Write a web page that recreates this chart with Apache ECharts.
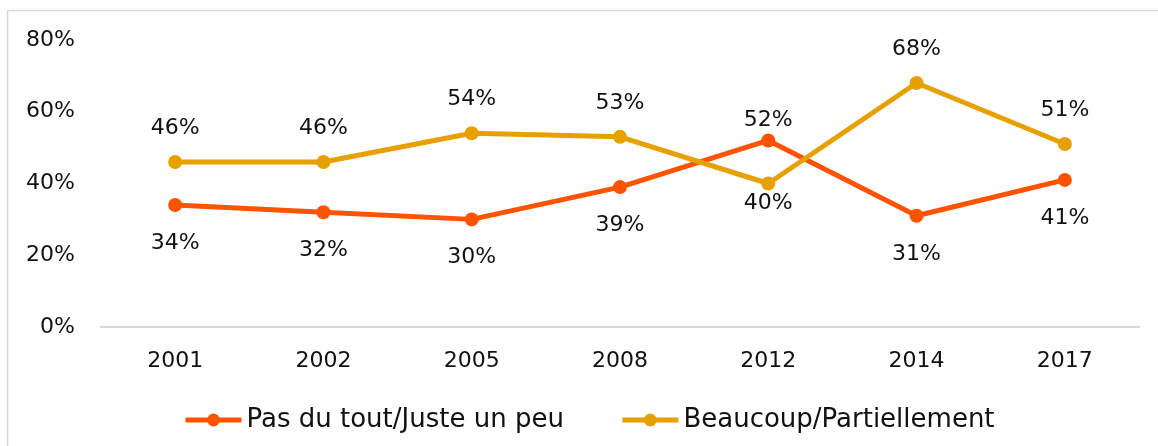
<!DOCTYPE html>
<html>
<head>
<meta charset="utf-8">
<script src="https://cdn.jsdelivr.net/npm/echarts@6/dist/echarts.min.js"></script>
<style>
  html, body { margin: 0; padding: 0; background: #fff; }
  #chart { width: 1158px; height: 446px; }
</style>
</head>
<body>
<div id="chart"></div>
<script>
// données
var years = ['2001', '2002', '2005', '2008', '2012', '2014', '2017'];
var pasDuTout = [34, 32, 30, 39, 52, 31, 41];
var beaucoup = [46, 46, 54, 53, 40, 68, 51];
var yTicks = [0, 20, 40, 60, 80];

var RED = '#FF5300';
var GOLD = '#E6A000';
var FONT = 'DejaVu Sans';

// étiquettes : la série du dessus en haut, l'autre en bas
function buildData(values, other) {
    return values.map(function (v, i) {
        var above = v >= other[i];
        var normal = above ? (values === beaucoup) : (values === pasDuTout);
        var dist = normal ? (above ? 16 : 20) : 2;
        return {
            value: v,
            label: { position: above ? 'top' : 'bottom', distance: dist }
        };
    });
}

var chart = echarts.init(document.getElementById('chart'));
chart.setOption({
    animation: false,
    textStyle: { fontFamily: FONT },
    graphic: [{
        type: 'rect',
        shape: { x: 7.5, y: 10.5, width: 1200, height: 500 },
        style: { fill: 'none', stroke: '#d9d9d9', lineWidth: 1.5 },
        silent: true
    }],
    grid: { left: 101, right: 19, top: 40, bottom: 119 },
    legend: {
        left: 178,
        top: 402,
        itemWidth: 56,
        itemHeight: 16,
        itemGap: 56,
        lineStyle: { width: 5 },
        textStyle: { fontFamily: FONT, fontSize: 26, color: '#111' },
        data: ['Pas du tout/Juste un peu', 'Beaucoup/Partiellement']
    },
    xAxis: {
        type: 'category',
        data: years,
        boundaryGap: true,
        axisTick: { show: false },
        axisLine: { lineStyle: { color: '#d9d9d9', width: 2 } },
        axisLabel: { color: '#111', fontSize: 22, fontFamily: FONT, margin: 23 }
    },
    yAxis: {
        type: 'value',
        min: yTicks[0],
        max: yTicks[yTicks.length - 1],
        interval: yTicks[1] - yTicks[0],
        axisLine: { show: false },
        axisTick: { show: false },
        splitLine: { show: false },
        axisLabel: { color: '#111', fontSize: 22, fontFamily: FONT, margin: 26, formatter: '{value}%' }
    },
    series: [{
        name: 'Pas du tout/Juste un peu',
        type: 'line',
        data: buildData(pasDuTout, beaucoup),
        symbol: 'circle',
        symbolSize: 14,
        lineStyle: { color: RED, width: 5 },
        itemStyle: { color: RED },
        label: { show: true, formatter: '{c}%', color: '#111', fontSize: 22, fontFamily: FONT }
    }, {
        name: 'Beaucoup/Partiellement',
        type: 'line',
        data: buildData(beaucoup, pasDuTout),
        symbol: 'circle',
        symbolSize: 14,
        lineStyle: { color: GOLD, width: 5 },
        itemStyle: { color: GOLD },
        label: { show: true, formatter: '{c}%', color: '#111', fontSize: 22, fontFamily: FONT }
    }]
});
</script>
</body>
</html>
